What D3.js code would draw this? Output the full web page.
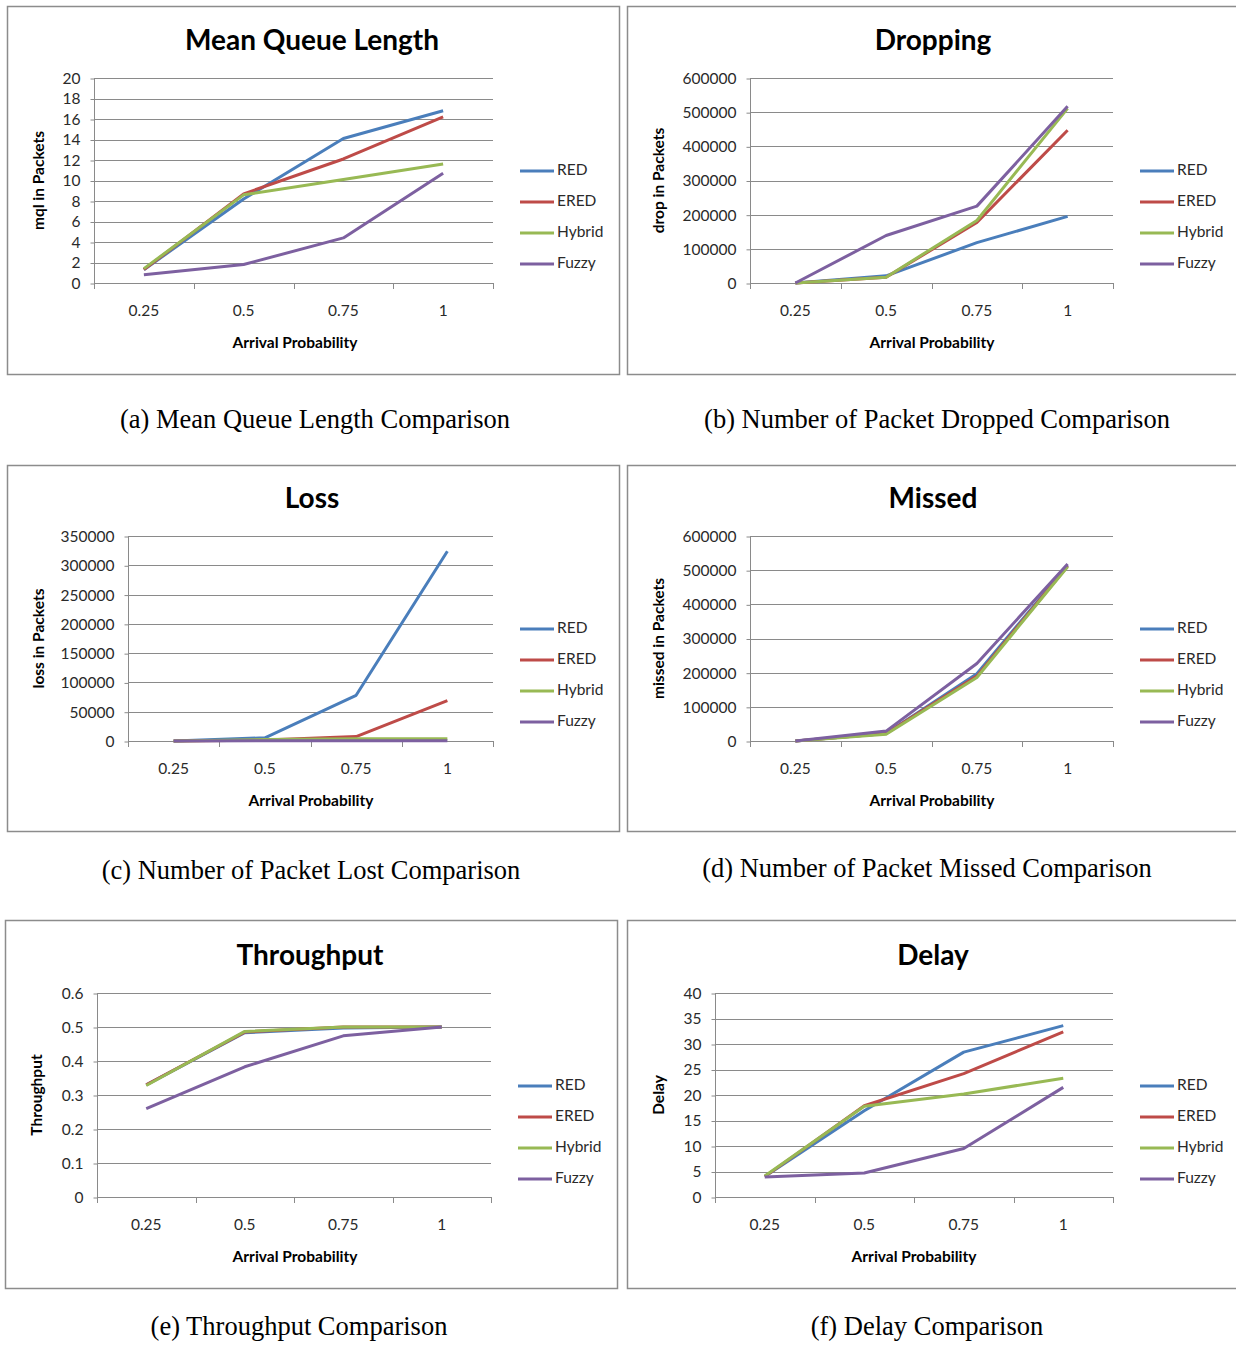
<!DOCTYPE html>
<html>
<head>
<meta charset="utf-8">
<script src="https://cdn.jsdelivr.net/npm/d3@7"></script>
<style>
  body { margin: 0; background: #fff; }
  svg text { font-family: Lato, "Open Sans", sans-serif; }
  .caption { font-family: "Liberation Serif", "Times New Roman", serif !important; }
</style>
</head>
<body>
<svg id="chart"></svg>
<script>
// shared categories / series
let categories = ['0.25', '0.5', '0.75', '1']
let seriesNames = ['RED', 'ERED', 'Hybrid', 'Fuzzy']
let seriesColors = ['#4a7ebb', '#be4b48', '#98b954', '#7d60a0']

// values, one row per series (RED, ERED, Hybrid, Fuzzy)
let mqlValues = [
  [1.3, 8.2, 14.1, 16.8],
  [1.3, 8.7, 12.1, 16.2],
  [1.4, 8.6, 10.1, 11.6],
  [0.8, 1.8, 4.4, 10.7]
]
let dropValues = [
  [0, 21000, 118000, 195000],
  [0, 17000, 177000, 447000],
  [0, 17000, 183000, 511000],
  [0, 139000, 225000, 517000]
]
let lossValues = [
  [0, 5500, 78000, 324000],
  [0, 1500, 7500, 69000],
  [0, 2500, 3800, 4000],
  [0, 500, 600, 600]
]
let missedValues = [
  [0, 22000, 197000, 514000],
  [0, 22000, 190000, 512000],
  [0, 20000, 186000, 510000],
  [0, 29000, 227000, 518000]
]
let throughputValues = [
  [0.33, 0.483, 0.497, 0.5],
  [0.33, 0.485, 0.5, 0.5],
  [0.328, 0.487, 0.5, 0.5],
  [0.26, 0.383, 0.474, 0.5]
]
let delayValues = [
  [4, 16.9, 28.4, 33.6],
  [4, 17.9, 24.2, 32.4],
  [4.1, 17.8, 20.2, 23.3],
  [3.9, 4.7, 9.5, 21.5]
]

// tick values
let mqlTicks = [0, 2, 4, 6, 8, 10, 12, 14, 16, 18, 20]
let dropTicks = [0, 100000, 200000, 300000, 400000, 500000, 600000]
let lossTicks = [0, 50000, 100000, 150000, 200000, 250000, 300000, 350000]
let throughputTicks = [0, 0.1, 0.2, 0.3, 0.4, 0.5, 0.6]
let delayTicks = [0, 5, 10, 15, 20, 25, 30, 35, 40]

let W = 1236
let H = 1345

let svg = d3.select('#chart')
  .attr('width', W)
  .attr('height', H)

let panels = [
  { title: 'Mean Queue Length', yLabel: 'mql in Packets', values: mqlValues, ticks: mqlTicks,
    caption: '(a) Mean Queue Length Comparison',
    box: [7, 6, 612, 368], plot: [94, 493, 78, 283], titleX: 312, yLabelX: 40, xLabelX: 295, legendX: 520, captionX: 315, captionY: 422 },
  { title: 'Dropping', yLabel: 'drop in Packets', values: dropValues, ticks: dropTicks,
    caption: '(b) Number of Packet Dropped Comparison',
    box: [627, 6, 620, 368], plot: [750, 1113, 78, 283], titleX: 933, yLabelX: 660, xLabelX: 932, legendX: 1140, captionX: 937, captionY: 422 },
  { title: 'Loss', yLabel: 'loss in Packets', values: lossValues, ticks: lossTicks,
    caption: '(c) Number of Packet Lost Comparison',
    box: [7, 465, 612, 366], plot: [128, 493, 536, 741], titleX: 312, yLabelX: 40, xLabelX: 311, legendX: 520, captionX: 311, captionY: 873 },
  { title: 'Missed', yLabel: 'missed in Packets', values: missedValues, ticks: dropTicks,
    caption: '(d) Number of Packet Missed Comparison',
    box: [627, 465, 620, 366], plot: [750, 1113, 536, 741], titleX: 933, yLabelX: 660, xLabelX: 932, legendX: 1140, captionX: 927, captionY: 871 },
  { title: 'Throughput', yLabel: 'Throughput', values: throughputValues, ticks: throughputTicks,
    caption: '(e) Throughput Comparison',
    box: [5, 920, 612, 368], plot: [97, 491, 993, 1197], titleX: 310, yLabelX: 38, xLabelX: 295, legendX: 518, captionX: 299, captionY: 1329 },
  { title: 'Delay', yLabel: 'Delay', values: delayValues, ticks: delayTicks,
    caption: '(f) Delay Comparison',
    box: [627, 920, 620, 368], plot: [715, 1113, 993, 1197], titleX: 933, yLabelX: 660, xLabelX: 914, legendX: 1140, captionX: 927, captionY: 1329 }
]

let drawPanel = (p) => {
  let [l, r, t, b] = p.plot
  let g = svg.append('g')

  g.append('rect')
    .attr('x', p.box[0] + 0.5).attr('y', p.box[1] + 0.5)
    .attr('width', p.box[2]).attr('height', p.box[3])
    .attr('fill', 'none').attr('stroke', '#8c8c8c').attr('stroke-width', 1.5)

  let xScale = d3.scaleBand().domain(categories).range([l, r])
  let yScale = d3.scaleLinear()
    .domain([0, d3.max(p.ticks)])
    .range([b, t])

  // gridlines
  g.selectAll('.grid')
    .data(p.ticks.slice(1))
    .enter()
    .append('line')
    .attr('x1', l).attr('x2', r)
    .attr('y1', (d) => Math.round(yScale(d)) + 0.5)
    .attr('y2', (d) => Math.round(yScale(d)) + 0.5)
    .attr('stroke', '#8a8a8a').attr('stroke-width', 1)

  let yAxis = d3.axisLeft(yScale)
    .tickValues(p.ticks)
    .tickSize(4)
    .tickPadding(10)
    .tickFormat((d) => String(+d.toFixed(1)))

  let ya = g.append('g')
    .attr('transform', 'translate(' + (l + 0.5) + ', 0.5)')
    .call(yAxis)
  ya.select('.domain').attr('stroke', '#8a8a8a').attr('d', 'M0,' + (b - 0.5) + 'V' + (t - 0.5))
  ya.selectAll('.tick line').attr('stroke', '#8a8a8a')
  ya.selectAll('.tick text').attr('font-size', 15.5).attr('fill', '#2a2a2a')

  let xAxis = d3.axisBottom(xScale).tickSize(0).tickPadding(21)
  let xa = g.append('g')
    .attr('transform', 'translate(0, ' + (b + 0.5) + ')')
    .call(xAxis)
  xa.select('.domain').attr('stroke', '#8a8a8a').attr('d', 'M' + l + ',0H' + r)
  xa.selectAll('.tick text').attr('font-size', 15.5).attr('fill', '#2a2a2a')

  // category boundary ticks
  let bounds = categories.map((c) => xScale(c)).concat([r])
  g.selectAll('.xtick')
    .data(bounds)
    .enter()
    .append('line')
    .attr('x1', (d) => Math.round(d) + 0.5).attr('x2', (d) => Math.round(d) + 0.5)
    .attr('y1', b).attr('y2', b + 6)
    .attr('stroke', '#8a8a8a')

  let line = d3.line()
    .x((d, i) => xScale(categories[i]) + xScale.bandwidth() / 2)
    .y((d) => yScale(d))

  p.values.forEach((vals, i) => {
    g.append('path')
      .datum(vals)
      .attr('d', line)
      .attr('fill', 'none')
      .attr('stroke', seriesColors[i])
      .attr('stroke-width', 3)
      .attr('stroke-linejoin', 'round')
  })

  // title
  g.append('text')
    .attr('x', p.titleX).attr('y', t - 35)
    .attr('text-anchor', 'middle').attr('dominant-baseline', 'middle')
    .attr('font-size', 28).attr('font-weight', 'bold').attr('fill', '#000')
    .text(p.title)

  // axis titles
  g.append('text')
    .attr('transform', 'translate(' + p.yLabelX + ', ' + ((t + b) / 2) + ') rotate(-90)')
    .attr('text-anchor', 'middle').attr('dominant-baseline', 'middle')
    .attr('font-size', 15.5).attr('font-weight', 'bold')
    .text(p.yLabel)

  g.append('text')
    .attr('x', p.xLabelX).attr('y', b + 61)
    .attr('text-anchor', 'middle').attr('dominant-baseline', 'middle')
    .attr('font-size', 15.5).attr('font-weight', 'bold')
    .text('Arrival Probability')

  // legend
  seriesNames.forEach((name, i) => {
    let ly = t + 93 + i * 31
    g.append('line')
      .attr('x1', p.legendX).attr('x2', p.legendX + 34)
      .attr('y1', ly).attr('y2', ly)
      .attr('stroke', seriesColors[i]).attr('stroke-width', 3)
    g.append('text')
      .attr('x', p.legendX + 37).attr('y', ly)
      .attr('dominant-baseline', 'middle')
      .attr('font-size', 15.5).attr('fill', '#2a2a2a')
      .text(name)
  })

  // caption
  g.append('text')
    .attr('class', 'caption')
    .attr('x', p.captionX).attr('y', p.captionY)
    .attr('text-anchor', 'middle').attr('dominant-baseline', 'middle')
    .attr('font-size', 26.5)
    .text(p.caption)
}

panels.forEach(drawPanel)
</script>
</body>
</html>
